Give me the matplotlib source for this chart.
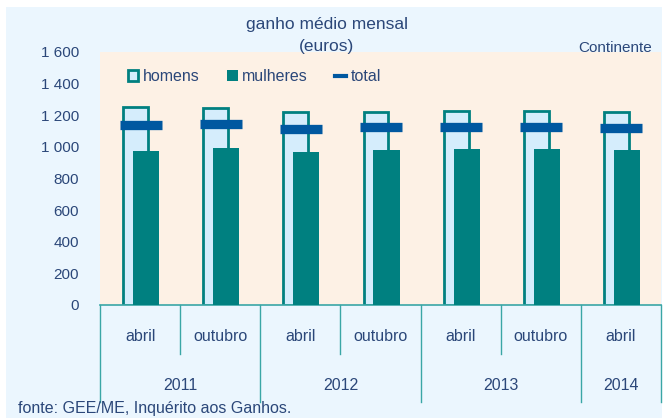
import matplotlib
matplotlib.use("Agg")
import matplotlib.pyplot as plt
from matplotlib.patches import Rectangle, Patch
from matplotlib.lines import Line2D
import matplotlib.transforms as mtransforms

plt.rcParams['font.family'] = ['Liberation Sans', 'DejaVu Sans']

months = ["abril", "outubro", "abril", "outubro", "abril", "outubro", "abril"]
years = ["2011", "2012", "2013", "2014"]
year_spans = [2, 2, 2, 1]
homens = [1250, 1249, 1221, 1223, 1225, 1225, 1221]
mulheres = [974, 993, 968, 980, 985, 985, 978]
total = [1136, 1143, 1115, 1126, 1126, 1126, 1119]
yticks = [0, 200, 400, 600, 800, 1000, 1200, 1400, 1600]

TXT = '#2B4779'
TEAL = '#008080'
LIGHT = '#D5EDFC'
BLUE = '#0058A0'
PEACH = '#FDF1E5'
BG = '#EBF6FE'
DIV = '#3AA6A6'

W, H = 665, 418
fig = plt.figure(figsize=(W / 100, H / 100), dpi=100, facecolor='white')
fig.patches.append(Rectangle((6 / W, 0), (662 - 6) / W, (H - 7) / H,
                             transform=fig.transFigure, facecolor=BG,
                             edgecolor='none', zorder=-10))

ax = fig.add_axes([100 / W, (H - 305) / H, (661 - 100) / W, (305 - 52) / H])
ax.set_facecolor(PEACH)

x = list(range(len(months)))
xh = [i - 0.056 for i in x]
xm = [i + 0.075 for i in x]
ax.bar(xh, homens, width=0.31, color=LIGHT, edgecolor=TEAL, linewidth=2.0, zorder=2)
ax.bar(xm, mulheres, width=0.325, color=TEAL, edgecolor='none', zorder=3)
ax.plot([i + 0.006 for i in x], total, linestyle='none', marker='_',
        markersize=30, markeredgewidth=6.7, color=BLUE, zorder=4)

ax.set_xlim(-0.5, len(months) - 0.5)
ax.set_ylim(0, 1600)
ax.set_yticks(yticks)
ax.set_yticklabels([f"{v:,}".replace(",", " ") for v in yticks], color=TXT, fontsize=11)
ax.tick_params(axis='y', length=0, pad=15)
ax.set_xticks([])
for s in ['top', 'right', 'left']:
    ax.spines[s].set_visible(False)
ax.spines['bottom'].set_color(DIV)
ax.spines['bottom'].set_linewidth(1.2)

trans = mtransforms.blended_transform_factory(ax.transData, ax.transAxes)
# month labels and dividers
for i, m in enumerate(months):
    ax.text(i, -0.125, m, transform=trans, ha='center', va='center',
            fontsize=11.5, color=TXT, clip_on=False)
# year labels and dividers
start = -0.5
bounds = [start]
for y, span in zip(years, year_spans):
    end = start + span
    ax.text((start + end) / 2, -0.319, y, transform=trans, ha='center', va='center',
            fontsize=11.5, color=TXT, clip_on=False)
    for k in range(1, span):
        xx = start + k
        ax.add_line(Line2D([xx, xx], [0, -0.194], transform=trans, color=DIV,
                           linewidth=1.0, clip_on=False))
    bounds.append(end)
    start = end
for b in bounds:
    ax.add_line(Line2D([b, b], [0, -0.383], transform=trans, color=DIV,
                       linewidth=1.0, clip_on=False))

handles = [Patch(facecolor=LIGHT, edgecolor=TEAL, linewidth=2.0),
           Patch(facecolor=TEAL, edgecolor='none'),
           Line2D([], [], color=BLUE, linewidth=3)]
leg = ax.legend(handles, ["homens", "mulheres", "total"], ncol=3, frameon=False,
                loc='center left', bbox_to_anchor=(0.05, 0.902), borderaxespad=0,
                borderpad=0, handlelength=0.65, handleheight=0.65,
                handletextpad=0.3, columnspacing=1.7, fontsize=11.5)
for t in leg.get_texts():
    t.set_color(TXT)

fig.text(327 / W, 1 - 25 / H, "ganho médio mensal", ha='center', va='center',
         fontsize=12.5, color=TXT)
fig.text(327 / W, 1 - 46 / H, "(euros)", ha='center', va='center',
         fontsize=12.5, color=TXT)
fig.text(652 / W, 1 - 48 / H, "Continente", ha='right', va='center',
         fontsize=11, color=TXT)
fig.text(18 / W, 1 - 408 / H, "fonte: GEE/ME, Inquérito aos Ganhos.", ha='left',
         va='center', fontsize=11.5, color=TXT)

fig.savefig("out.png", dpi=100, facecolor='white')
